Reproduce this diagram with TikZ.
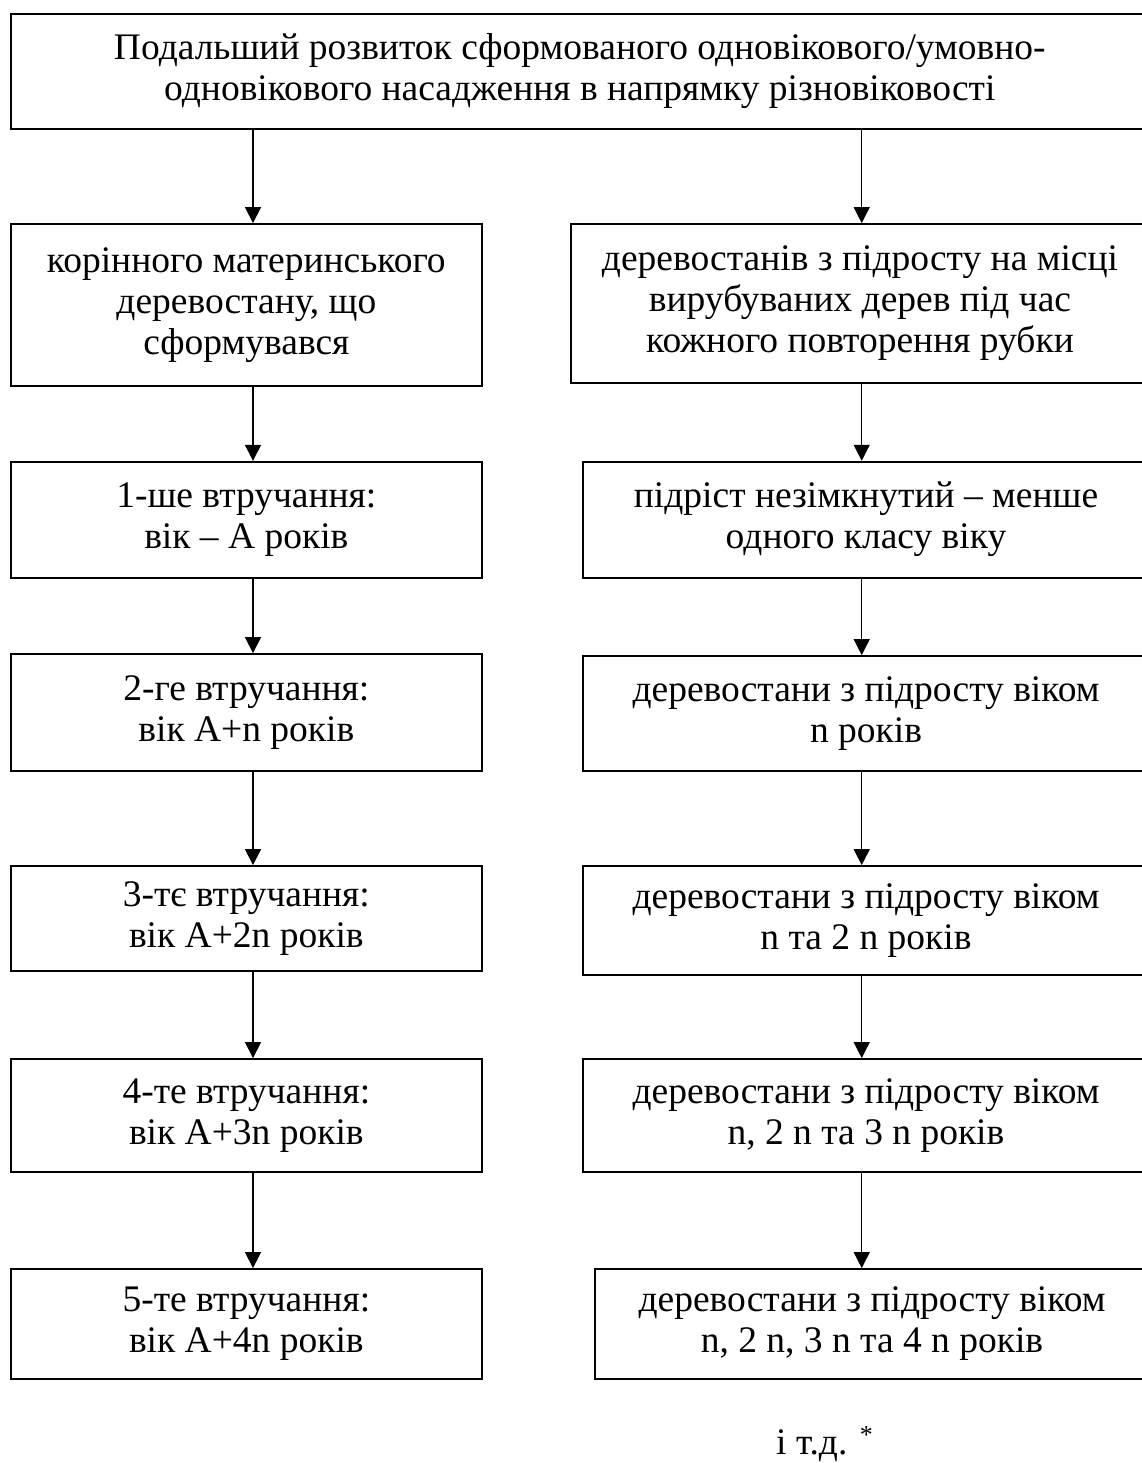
\documentclass[tikz,border=0pt]{standalone}
\usepackage{fontspec}
\setmainfont{Liberation Serif}
\usetikzlibrary{arrows.meta}
\tikzset{
  box/.style={draw, line width=1.8pt, inner sep=0pt, align=center,
    font=\fontsize{37.5}{41}\selectfont},
  arr/.style={line width=1.3pt, -{Triangle[length=16pt,width=16pt]}},
  plain/.style={inner sep=0pt, font=\fontsize{37.5}{41}\selectfont}
}
\begin{document}
\begin{tikzpicture}[x=1pt,y=-1pt]
\useasboundingbox (0,0) rectangle (1141,1463);
\fill[white] (0,0) rectangle (1141,1463);
\coordinate (cl) at (253,0);
\coordinate (cr) at (861.7,0);
% top
\node[box, minimum width=1138.3pt, minimum height=115pt] (top) at (579.85,71.5)
  {Подальший розвиток сформованого одновікового/умовно-\\одновікового насадження в напрямку різновіковості};
% left column
\node[box, minimum width=471.3pt, minimum height=161.7pt] (L1) at (246.35,304.85)
  {корінного материнського\\деревостану, що\\сформувався};
\node[box, minimum width=471.3pt, minimum height=116pt] (L2) at (246.35,519.7)
  {1-ше втручання:\\вік – А років};
\node[box, minimum width=471.3pt, minimum height=116.7pt] (L3) at (246.35,712.35)
  {2-ге втручання:\\вік А+n років};
\node[box, minimum width=471.3pt, minimum height=105pt] (L4) at (246.35,918.5)
  {3-тє втручання:\\вік А+2n років};
\node[box, minimum width=471.3pt, minimum height=113pt] (L5) at (246.35,1115.5)
  {4-те втручання:\\вік А+3n років};
\node[box, minimum width=471.3pt, minimum height=110pt] (L6) at (246.35,1324)
  {5-те втручання:\\вік А+4n років};
% right column
\node[box, minimum width=578pt, minimum height=158.7pt] (R1) at (860,303.35)
  {деревостанів з підросту на місці\\вирубуваних дерев під час\\кожного повторення рубки};
\node[box, minimum width=566pt, minimum height=116pt] (R2) at (866,519.7)
  {підріст незімкнутий – менше\\одного класу віку};
\node[box, minimum width=566pt, minimum height=114.7pt] (R3) at (866,713.35)
  {деревостани з підросту віком\\n років};
\node[box, minimum width=566pt, minimum height=109pt] (R4) at (866,920.5)
  {деревостани з підросту віком\\n та 2 n років};
\node[box, minimum width=566pt, minimum height=113pt] (R5) at (866,1115.5)
  {деревостани з підросту віком\\n, 2 n та 3 n років};
\node[box, minimum width=554pt, minimum height=110pt] (R6) at (872,1324)
  {деревостани з підросту віком\\n, 2 n, 3 n та 4 n років};
% footer
\node[plain, anchor=base west] (etc) at (776,1454)
  {і т.д. \raisebox{11pt}{\fontsize{26}{26}\selectfont *}};
% arrows
\draw[arr] (top.south -| cl) -- (L1.north -| cl);
\draw[arr] (top.south -| cr) -- (R1.north -| cr);
\foreach \a/\b in {L1/L2,L2/L3,L3/L4,L4/L5,L5/L6}
  \draw[arr] (\a.south -| cl) -- (\b.north -| cl);
\foreach \a/\b in {R1/R2,R2/R3,R3/R4,R4/R5,R5/R6}
  \draw[arr] (\a.south -| cr) -- (\b.north -| cr);
\end{tikzpicture}
\end{document}
